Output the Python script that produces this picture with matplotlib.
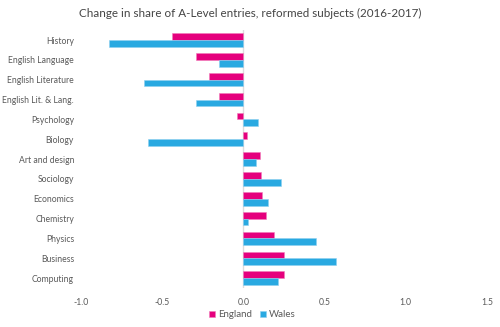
import numpy as np
import matplotlib.pyplot as plt

subjects = ["History", "English Language", "English Literature", "English Lit. & Lang.",
            "Psychology", "Biology", "Art and design", "Sociology", "Economics",
            "Chemistry", "Physics", "Business", "Computing"]
england = [-0.44, -0.29, -0.21, -0.15, -0.04, 0.02, 0.10, 0.11, 0.115, 0.14, 0.19, 0.25, 0.25]
wales = [-0.825, -0.15, -0.61, -0.29, 0.09, -0.59, 0.075, 0.23, 0.15, 0.03, 0.45, 0.57, 0.21]

pink = "#e5007d"
blue = "#29a9e1"
txt = "#5a5a5a"

plt.rcParams["font.family"] = ["Lato", "DejaVu Sans"]

fig = plt.figure(figsize=(5, 3.27), dpi=100)
ax = fig.add_axes([0.162, 0.119, 0.812, 0.789])

y = np.arange(len(subjects))
h = 0.34
ax.barh(y - h / 2, england, height=h, color=pink, edgecolor="#f27cbb", linewidth=0.4, label="England")
ax.barh(y + h / 2, wales, height=h, color=blue, edgecolor="#8fd0f0", linewidth=0.4, label="Wales")

ax.axvline(0, color="#dddddd", linewidth=1, zorder=0)
ax.set_xlim(-1.0, 1.5)
ax.set_ylim(len(subjects) - 0.5, -0.5)
ax.set_yticks(y)
ax.set_yticklabels(subjects)
ax.set_xticks([-1.0, -0.5, 0.0, 0.5, 1.0, 1.5])
ax.set_xticklabels(["-1.0", "-0.5", "0.0", "0.5", "1.0", "1.5"])
ax.tick_params(length=0, labelsize=6.2, colors=txt)
ax.tick_params(axis="y", pad=5)
ax.tick_params(axis="x", pad=7)
for s in ax.spines.values():
    s.set_visible(False)

fig.text(0.5, 0.96, "Change in share of A-Level entries, reformed subjects (2016-2017)",
         ha="center", va="center", fontsize=8.4, color="#444444")

fig.legend(loc="center", bbox_to_anchor=(0.505, 0.037), ncol=2, frameon=False,
           fontsize=7, labelcolor=txt, handlelength=0.6, handleheight=0.6,
           handletextpad=0.3, columnspacing=0.8)

fig.savefig("out.png", dpi=100)
